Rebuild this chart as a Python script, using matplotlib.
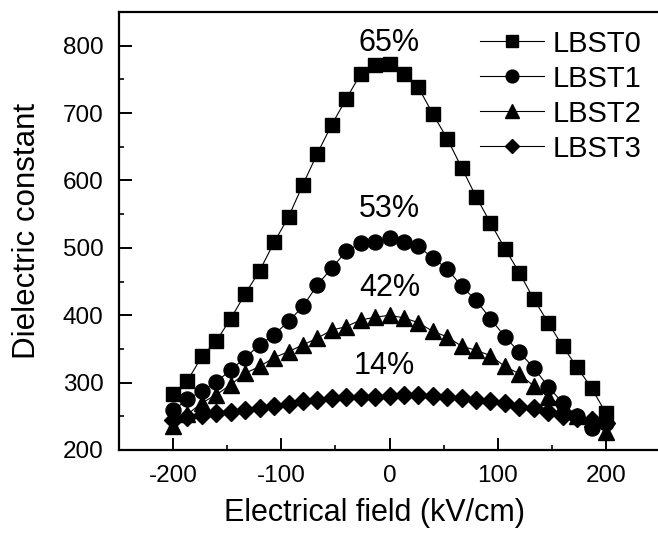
import matplotlib
matplotlib.use('Agg')
import matplotlib.pyplot as plt
from matplotlib.ticker import MultipleLocator

plt.rcParams['font.family'] = ['Liberation Sans', 'DejaVu Sans']
plt.rcParams['axes.unicode_minus'] = False

# electric field points (kV/cm)
field = [-200, -186.7, -173.3, -160, -146.7, -133.3, -120, -106.7, -93.3, -80,
         -66.7, -53.3, -40, -26.7, -13.3, 0, 13.3, 26.7, 40, 53.3,
         66.7, 80, 93.3, 106.7, 120, 133.3, 146.7, 160, 173.3, 186.7, 200]

lbst0 = [283, 303, 339, 362, 395, 432, 466, 508, 546, 594,
         640, 683, 721, 758, 771, 773, 758, 738, 699, 662,
         619, 576, 537, 499, 463, 424, 389, 354, 323, 292, 255]
lbst1 = [259, 275, 288, 301, 319, 337, 356, 371, 391, 413,
         445, 470, 495, 507, 509, 515, 509, 502, 485, 469,
         443, 422, 395, 368, 345, 322, 294, 270, 250, 233, 240]
lbst2 = [236, 253, 270, 282, 297, 314, 324, 337, 346, 356,
         366, 378, 383, 393, 397, 400, 396, 389, 376, 368,
         354, 348, 340, 324, 313, 295, 279, 265, 250, 246, 227]
lbst3 = [245, 249, 252, 255, 257, 259, 262, 265, 269, 272,
         274, 277, 278, 279, 279, 280, 281, 281, 280, 279,
         277, 274, 272, 270, 264, 262, 257, 250, 248, 244, 240]

series_names = ['LBST0', 'LBST1', 'LBST2', 'LBST3']
tunability = ['65%', '53%', '42%', '14%']
label_pos = [(0, 804), (0, 557), (0, 440), (-5, 324)]

fig = plt.figure(figsize=(6.58, 5.35), dpi=100)
ax = fig.add_axes([119 / 658, 85 / 535, 541 / 658, 438 / 535])

styles = [('s', 9.8), ('o', 10.8), ('^', 11.3), ('D', 8.8)]
for ys, name, (mk, ms) in zip([lbst0, lbst1, lbst2, lbst3], series_names, styles):
    ax.plot(field, ys, color='black', lw=0.8, marker=mk, markersize=ms,
            markerfacecolor='black', markeredgecolor='black', label=name)

for txt, (x, y) in zip(tunability, label_pos):
    ax.text(x, y, txt, fontsize=22, ha='center', va='center')

ax.set_xlim(-250, 250)
ax.set_ylim(200, 850)
ax.xaxis.set_major_locator(MultipleLocator(100))
ax.xaxis.set_minor_locator(MultipleLocator(50))
ax.yaxis.set_major_locator(MultipleLocator(100))
ax.yaxis.set_minor_locator(MultipleLocator(50))
ax.set_yticks([200, 300, 400, 500, 600, 700, 800])

ax.tick_params(which='major', direction='in', length=9, width=1.4, labelsize=17.5, pad=11)
ax.tick_params(which='minor', direction='in', length=3.5, width=1.2)
for sp in ax.spines.values():
    sp.set_linewidth(1.6)

ax.set_xlabel('Electrical field (kV/cm)', fontsize=22)
ax.set_ylabel('Dielectric constant', fontsize=22.5)
ax.xaxis.set_label_coords((375 - 119) / 541, -(498 - 450) / 438)
ax.yaxis.set_label_coords(-(119 - 42) / 541, 0.5)

leg = ax.legend(loc='upper left', bbox_to_anchor=((462 - 119) / 541, 1.0),
                frameon=False, fontsize=21, handlelength=2.2, handletextpad=0.3,
                labelspacing=0.24, markerscale=0.85, borderaxespad=0.2)

fig.savefig('out.png', dpi=100)
